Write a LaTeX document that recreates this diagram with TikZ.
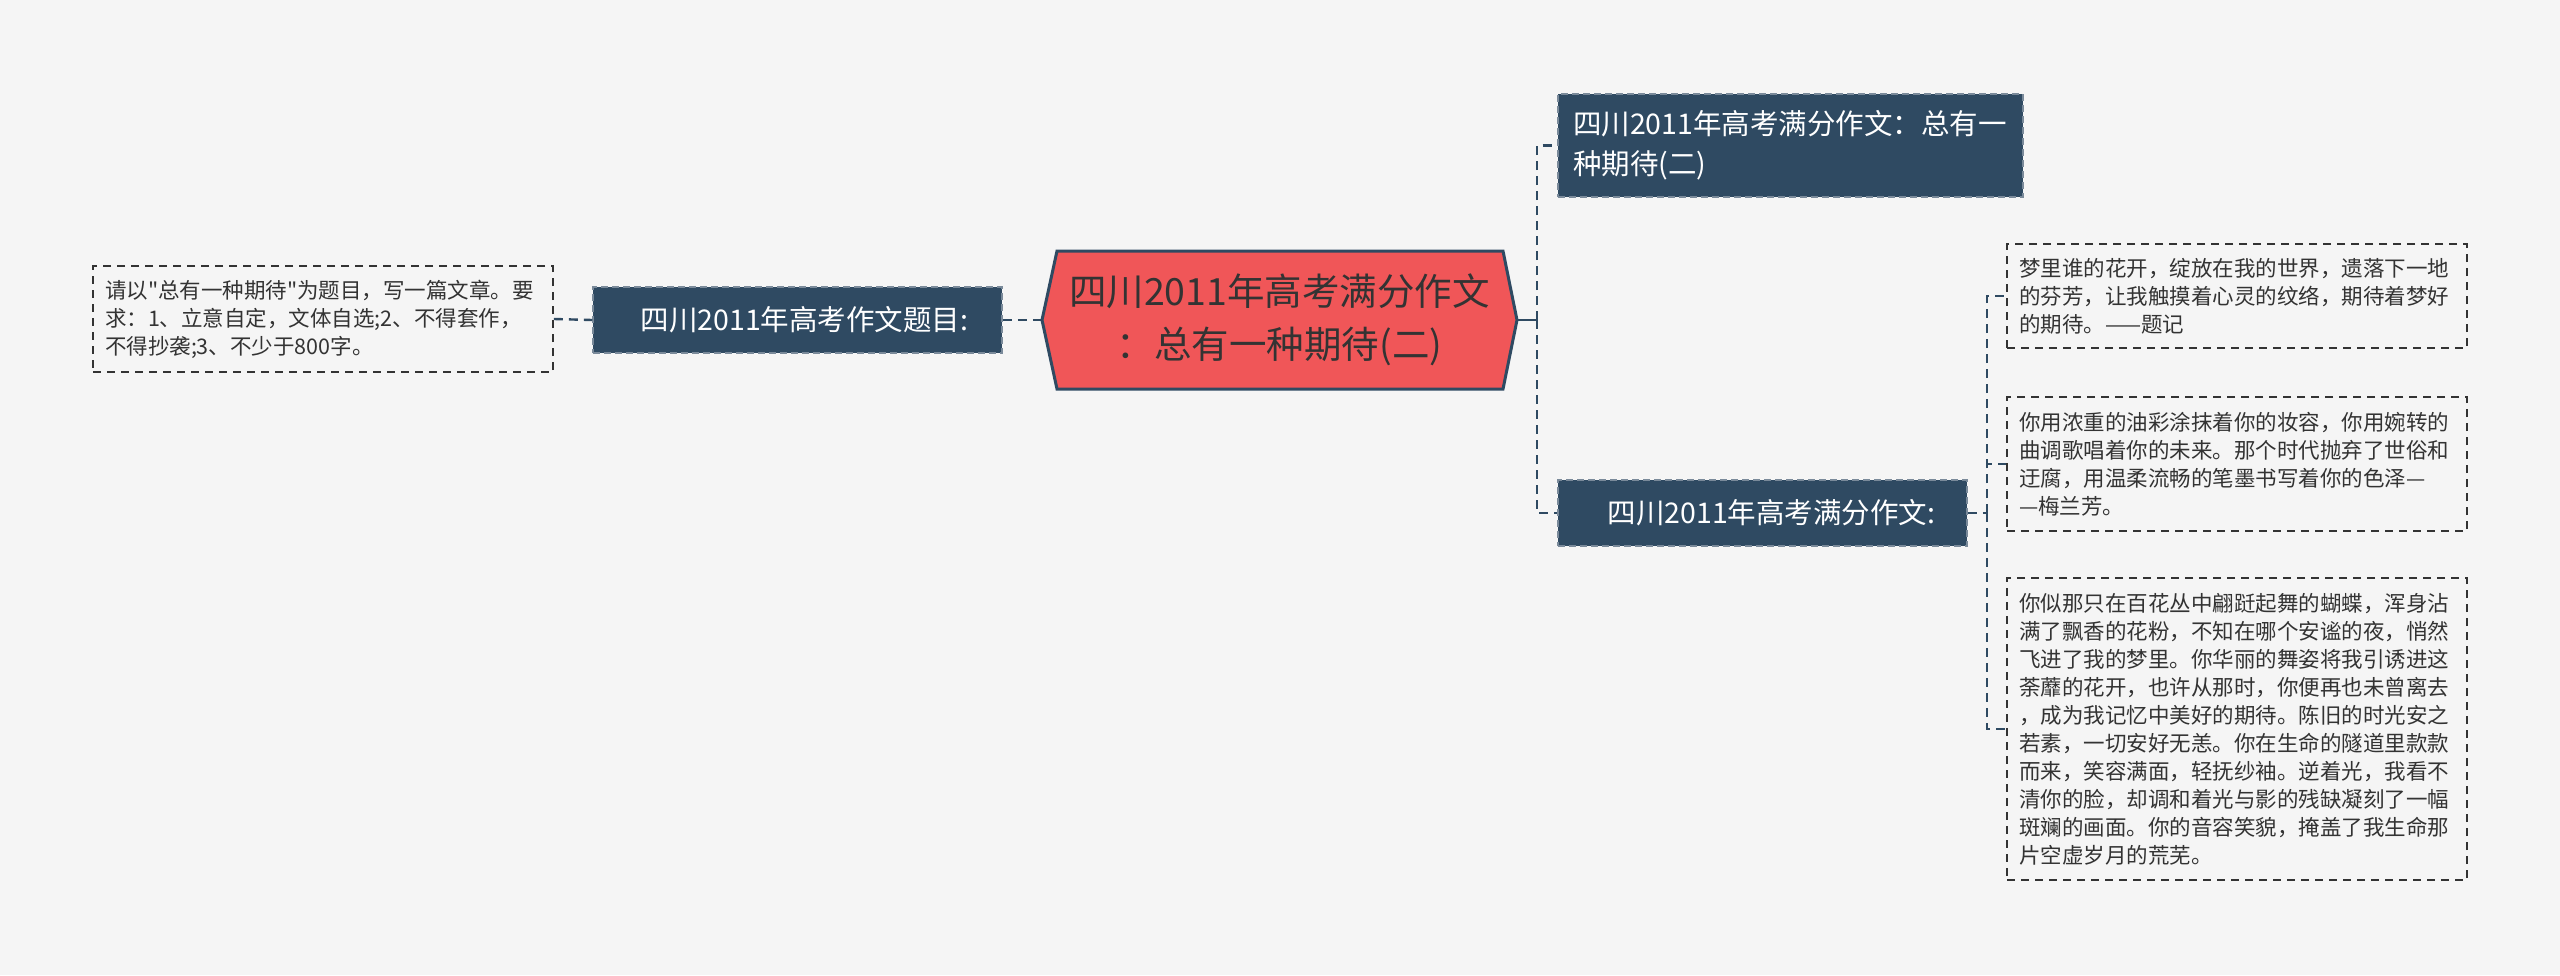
\documentclass[tikz,border=0pt]{standalone}
\usepackage{fontspec}
\setmainfont{Noto Sans CJK SC}[Ligatures=TeXOff]
\definecolor{bgc}{HTML}{F5F5F5}
\definecolor{navy}{HTML}{2F4A62}
\definecolor{navyedge}{HTML}{7A8A9A}
\definecolor{redc}{HTML}{F05658}
\definecolor{txt}{HTML}{333333}
\definecolor{linec}{HTML}{2F4A62}
\tikzset{
  conn/.style={draw=linec, line width=2.4pt, dash pattern=on 9pt off 6pt},
  solidconn/.style={draw=linec, line width=2.6pt},
  textbox/.style={draw=txt, line width=1.8pt, dash pattern=on 8pt off 6pt,
    fill=none, text=txt, align=left, inner sep=12pt, text width=436pt,
    font=\fontsize{21.5}{28}\selectfont, minimum width=460pt, anchor=center},
  titlebox/.style={fill=navy, draw=navyedge, line width=1.5pt, dash pattern=on 7pt off 4pt,
    text=white, font=\fontsize{28.5}{40}\selectfont, inner sep=0pt, anchor=center},
}
\begin{document}
\begin{tikzpicture}[x=1pt,y=-1pt]
\fill[bgc] (0,0) rectangle (2560,975);
\useasboundingbox (0,0) rectangle (2560,975);
% central hexagon
\fill[redc, draw=navy, line width=3pt, line join=miter]
  (1042,320) -- (1057,251) -- (1503,251) -- (1517,320) -- (1503,389) -- (1057,389) -- cycle;
\node[text=txt, align=center, font=\fontsize{37.5}{53}\selectfont, inner sep=0pt,
  minimum width=475pt, minimum height=138pt] (root) at (1279.5,320)
  {四川2011年高考满分作文\\：总有一种期待(二)};
% left side
\node[titlebox, minimum width=409pt, minimum height=66pt] (ltitle) at (797.5,320)
  {\hspace*{14pt}四川2011年高考作文题目:};
\node[textbox, minimum height=106pt] (ltext) at (323,319)
  {请以"总有一种期待"为题目，写一篇文章。要\\求：1、立意自定，文体自选;2、不得套作，\\不得抄袭;3、不少于800字。};
% right side
\node[titlebox, align=left, text width=435pt, inner xsep=15pt, minimum height=103pt] (rtop) at (1790.5,145.5)
  {四川2011年高考满分作文：总有一\\种期待(二)};
\node[titlebox, minimum width=409pt, minimum height=66pt] (rtitle) at (1762.5,513)
  {\hspace*{18pt}四川2011年高考满分作文:};
\node[textbox, minimum height=104pt] (b1) at (2237,296)
  {梦里谁的花开，绽放在我的世界，遗落下一地\\的芬芳，让我触摸着心灵的纹络，期待着梦好\\的期待。——题记};
\node[textbox, minimum height=134pt] (b2) at (2237,464)
  {你用浓重的油彩涂抹着你的妆容，你用婉转的\\曲调歌唱着你的未来。那个时代抛弃了世俗和\\迂腐，用温柔流畅的笔墨书写着你的色泽—\\—梅兰芳。};
\node[textbox, minimum height=302pt] (b3) at (2237,729)
  {你似那只在百花丛中翩跹起舞的蝴蝶，浑身沾\\满了飘香的花粉，不知在哪个安谧的夜，悄然\\飞进了我的梦里。你华丽的舞姿将我引诱进这\\荼蘼的花开，也许从那时，你便再也未曾离去\\，成为我记忆中美好的期待。陈旧的时光安之\\若素，一切安好无恙。你在生命的隧道里款款\\而来，笑容满面，轻抚纱袖。逆着光，我看不\\清你的脸，却调和着光与影的残缺凝刻了一幅\\斑斓的画面。你的音容笑貌，掩盖了我生命那\\片空虚岁月的荒芜。};
% junctions
\coordinate (j1) at (1537,320);
\coordinate (j2) at (1987,513);
% connectors
\draw[conn] (ltext.east) -- (ltitle.west);
\draw[conn] (ltitle.east) -- (root.west);
\draw[solidconn] (root.east) -- (j1);
\draw[conn] (j1) |- (rtop.west);
\draw[conn] (j1) |- (rtitle.west);
\draw[conn] (rtitle.east) -- (j2);
\draw[conn] (j2) |- (b1.west);
\draw[conn] (j2) |- (b2.west);
\draw[conn] (j2) |- (b3.west);
\end{tikzpicture}
\end{document}
